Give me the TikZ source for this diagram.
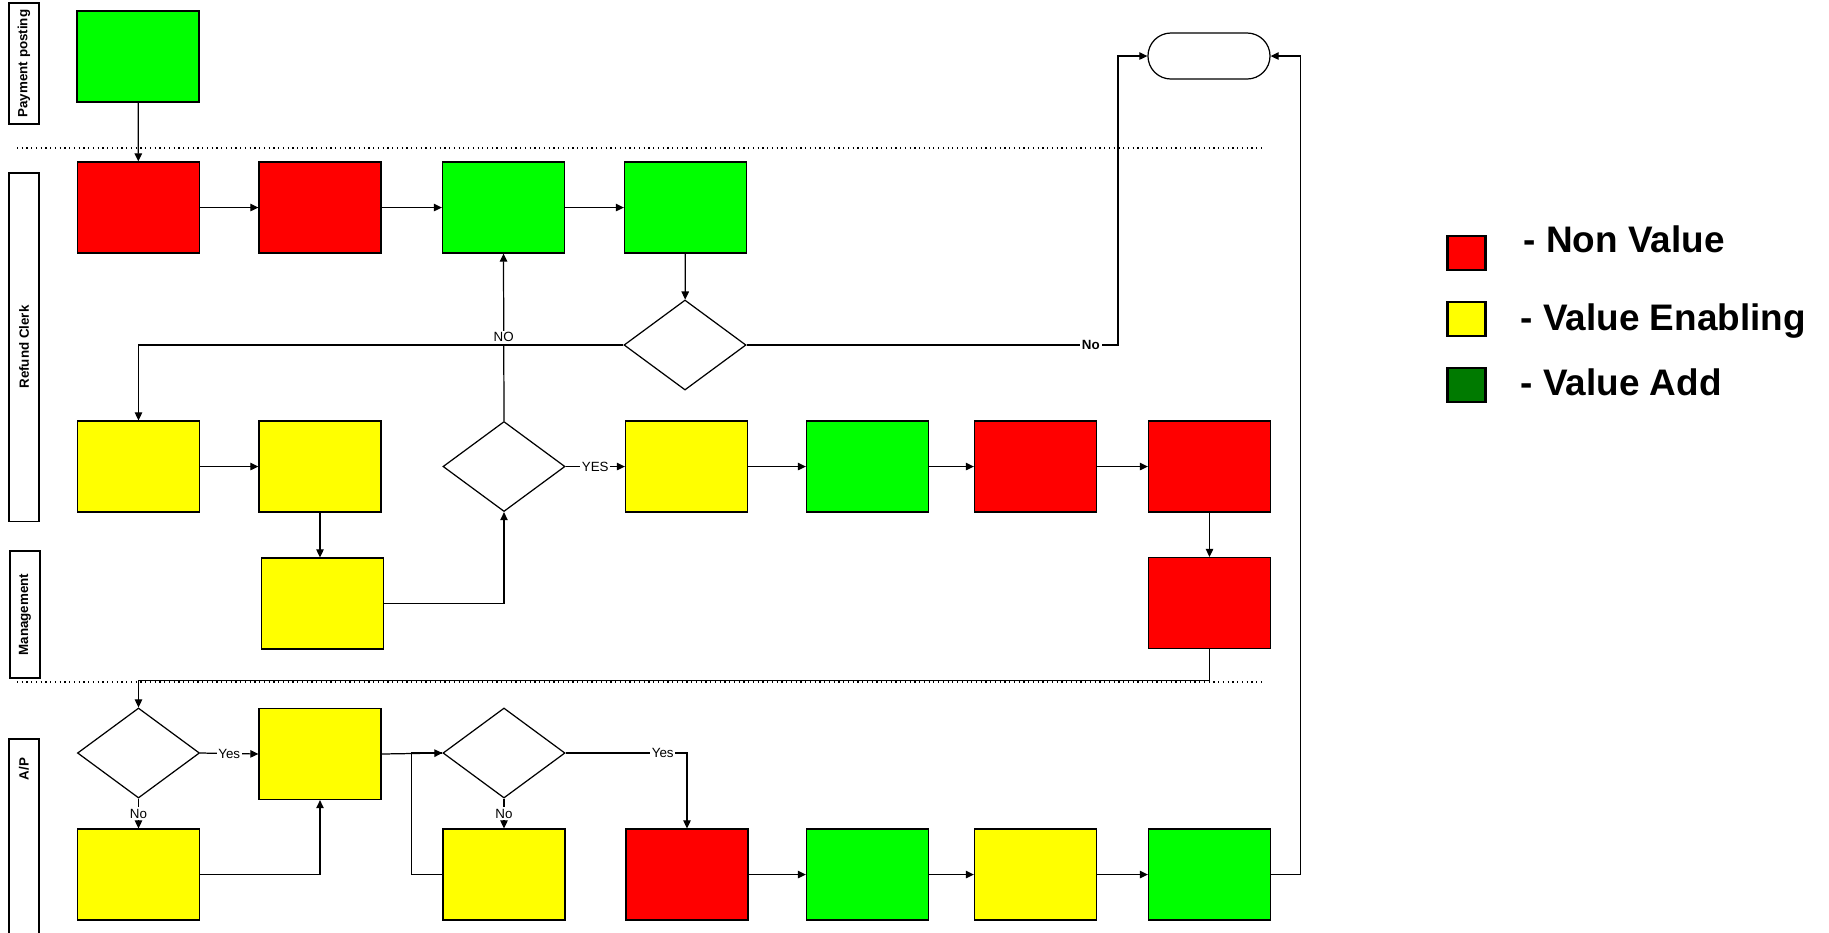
\documentclass[tikz,border=0pt]{standalone}
\usepackage{fontspec}
\setmainfont{Liberation Sans}
\usetikzlibrary{shapes.geometric,arrows.meta}

\definecolor{nonval}{HTML}{FF0000}
\definecolor{valenab}{HTML}{FFFF00}
\definecolor{valadd}{HTML}{00FF00}
\definecolor{legadd}{HTML}{007A00}

\begin{document}
\begin{tikzpicture}[
x=0.01cm, y=-0.01cm,
line width=0.35pt,
>={Triangle[length=0.8mm,width=0.75mm]},
box/.style={
draw,
minimum width=1.22cm,
minimum height=0.91cm,
inner sep=0
},
decision/.style={draw, diamond, fill=white, minimum width=1.22cm, minimum height=0.9cm, inner sep=0},
lane/.style={draw, rotate=90, minimum height=0.3cm, inner sep=0, font=\bfseries\fontsize{3.8}{4.5}\selectfont},
lbl/.style={fill=white, inner sep=0.5pt, font=\fontsize{3.8}{4.5}\selectfont},
legbox/.style={draw, line width=0.6pt, minimum width=0.38cm, minimum height=0.34cm, inner sep=0},
legtext/.style={anchor=base west, inner sep=0, font=\bfseries\fontsize{10.5}{12}\selectfont}
]
\useasboundingbox (0,0) rectangle (1829,932);

% lanes
\draw[densely dotted] (17,148) -- (1262,148);
\draw[densely dotted] (17,682) -- (1262,682);

\node[lane, minimum width=1.21cm] (paylane) at (24,63.5) {Payment posting};
\node[lane, minimum width=3.48cm] (rclane) at (24,347) {Refund Clerk};
\node[lane, minimum width=1.27cm] (mglane) at (25,614.5) {Management};
\node[lane, minimum width=2.01cm] (aplane) at (24,839.5) {};
\node[lane, draw=none] (aptext) at (24,769) {A/P};

% payment posting
\node[box, fill=valadd] (pay) at (138,56.5) {};
\node[draw, rounded corners=0.23cm, fill=white, minimum width=1.22cm, minimum height=0.46cm] (endnode) at (1209,56) {};

% refund clerk
\node[box, fill=nonval] (rc1) at (138.5,207.5) {};
\node[box, fill=nonval] (rc2) at (320,207.5) {};
\node[box, fill=valadd] (rc3) at (503.5,207.5) {};
\node[box, fill=valadd] (rc4) at (685.5,207.5) {};
\node[decision] (dchk) at (685,345) {};
\coordinate (nocorner) at (1118,345);

\node[box, fill=valenab] (rv1) at (138.5,466.5) {};
\node[box, fill=valenab] (rv2) at (320,466.5) {};
\node[decision] (dapp) at (504,466.5) {};
\node[box, fill=valenab] (rv3) at (686.5,466.5) {};
\node[box, fill=valadd] (rv4) at (867.5,466.5) {};
\node[box, fill=nonval] (rv5) at (1035.5,466.5) {};
\node[box, fill=nonval] (rv6) at (1209.5,466.5) {};

% management
\node[box, fill=valenab] (mg1) at (322.5,603.5) {};
\node[box, fill=nonval] (mg2) at (1209.5,603) {};

% A/P
\node[decision] (dap1) at (138.5,753) {};
\node[box, fill=valenab] (apy1) at (320,754) {};
\node[decision] (dap2) at (504,753) {};

\node[box, fill=valenab] (apl1) at (138.5,874.5) {};
\node[box, fill=valenab] (apl2) at (504,874.5) {};
\node[box, fill=nonval] (apl3) at (687,874.5) {};
\node[box, fill=valadd] (apl4) at (867.5,874.5) {};
\node[box, fill=valenab] (apl5) at (1035.5,874.5) {};
\node[box, fill=valadd] (apl6) at (1209.5,874.5) {};

% connectors
\draw[->] (pay) -- (rc1);
\draw[->] (rc1) -- (rc2);
\draw[->] (rc2) -- (rc3);
\draw[->] (rc3) -- (rc4);
\draw[->] (rc4) -- (dchk);
\draw[->] (dchk.east) -- node[lbl, pos=0.927, font=\bfseries\fontsize{3.8}{4.5}\selectfont] {No} (nocorner) |- (endnode.west);
\draw[->] (dchk.west) -| (rv1.north);

\draw[->] (rv1) -- (rv2);
\draw[->] (rv2.south) -- (rv2.south |- mg1.north);
\draw[->] (mg1.east) -| (dapp.south);
\draw[->] (dapp.north) -- node[lbl] {NO} (rc3.south);
\draw[->] (dapp.east) -- node[lbl] {YES} (rv3.west);
\draw[->] (rv3) -- (rv4);
\draw[->] (rv4) -- (rv5);
\draw[->] (rv5) -- (rv6);
\draw[->] (rv6) -- (mg2);
\draw[->] (mg2.south) -- ++(0,31) -| (dap1.north);

\draw[->] (dap1.east) -- node[lbl] {Yes} (apy1.west);
\draw[->] (dap1.south) -- node[lbl] {No} (apl1.north);
\draw[->] (apl1.east) -| (apy1.south);
\draw[->] (apy1.east) -- (dap2.west);
\draw (apl2.west) -- ++(-31,0) |- (dap2.west);
\draw[->] (dap2.south) -- node[lbl] {No} (apl2.north);
\draw[->] (dap2.east) -| node[lbl, pos=0.4] {Yes} (apl3.north);
\draw[->] (apl3) -- (apl4);
\draw[->] (apl4) -- (apl5);
\draw[->] (apl5) -- (apl6);
\draw[->] (apl6.east) -- ++(29,0) |- (endnode.east);

% legend
\node[legbox, fill=nonval] (legred) at (1466.5,253) {};
\node[legbox, fill=valenab] (legyellow) at (1466.5,319) {};
\node[legbox, fill=legadd] (leggreen) at (1466.5,385) {};
\node[legtext] (legnon) at (1523,252) {- Non Value};
\node[legtext] (legenab) at (1520,330) {- Value Enabling};
\node[legtext] (legadd) at (1520,395) {- Value Add};

\end{tikzpicture}
\end{document}
